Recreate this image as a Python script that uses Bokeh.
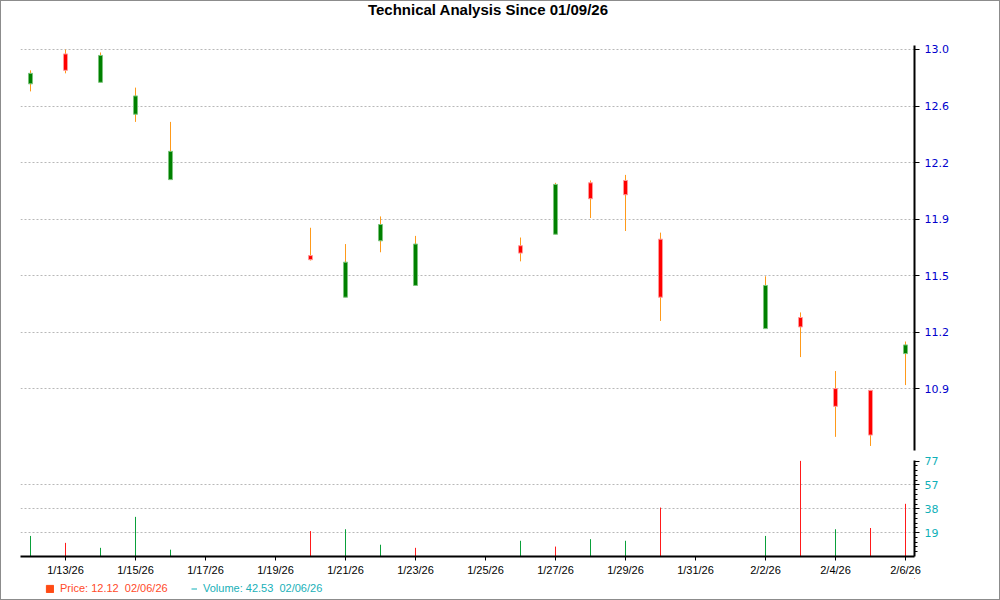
import pandas as pd
from bokeh.plotting import figure
from bokeh.layouts import column
from bokeh.models import (ColumnDataSource, Range1d, FixedTicker, Legend, LegendItem, Div)
from bokeh.embed import file_html
from bokeh.resources import INLINE

# ---------------- data ----------------
dates = ["2026-01-12", "2026-01-13", "2026-01-14", "2026-01-15", "2026-01-16",
         "2026-01-20", "2026-01-21", "2026-01-22", "2026-01-23", "2026-01-26",
         "2026-01-27", "2026-01-28", "2026-01-29", "2026-01-30", "2026-02-02",
         "2026-02-03", "2026-02-04", "2026-02-05", "2026-02-06"]
open_ = [12.77, 12.97, 12.78, 12.57, 12.15, 11.68, 11.43, 11.77, 11.50, 11.74,
         11.81, 12.13, 12.145, 11.78, 11.245, 11.31, 10.90, 10.89, 11.10]
high = [12.86, 13.00, 12.98, 12.745, 12.52, 11.85, 11.75, 11.92, 11.80, 11.79,
        12.13, 12.145, 12.18, 11.82, 11.555, 11.34, 11.00, 10.89, 11.17]
low = [12.72, 12.84, 12.78, 12.52, 12.15, 11.65, 11.43, 11.70, 11.50, 11.645,
       11.81, 11.91, 11.83, 11.29, 11.245, 11.08, 10.63, 10.58, 10.92]
close = [12.84, 12.86, 12.96, 12.69, 12.33, 11.655, 11.64, 11.87, 11.75, 11.695,
         12.12, 12.03, 12.055, 11.43, 11.50, 11.255, 10.80, 10.64, 11.15]
volume = [16.6, 11.0, 7.0, 32.0, 5.5, 20.5, 22.0, 9.5, 7.0, 12.7,
          8.0, 14.0, 12.7, 39.5, 16.6, 77.3, 22.0, 23.0, 42.53]
volume_dir = ["up", "down", "up", "up", "up", "down", "up", "up", "down", "up",
              "down", "up", "up", "down", "up", "down", "up", "down", "down"]

x_tick_dates = ["2026-01-13", "2026-01-15", "2026-01-17", "2026-01-19", "2026-01-21",
                "2026-01-23", "2026-01-25", "2026-01-27", "2026-01-29", "2026-01-31",
                "2026-02-02", "2026-02-04", "2026-02-06"]
x_tick_labels = ["1/13/26", "1/15/26", "1/17/26", "1/19/26", "1/21/26", "1/23/26",
                 "1/25/26", "1/27/26", "1/29/26", "1/31/26", "2/2/26", "2/4/26", "2/6/26"]
price_tick_values = [10.9, 11.225, 11.559, 11.903, 12.258, 12.623, 13.0]
price_tick_labels = ["10.9", "11.2", "11.5", "11.9", "12.2", "12.6", "13.0"]
vol_tick_values = [19.25, 38.5, 57.75, 77.0]
vol_tick_labels = ["19", "38", "57", "77"]

title_text = "Technical Analysis Since 01/09/26"
price_legend = "Price: 12.12  02/06/26"
volume_legend = "Volume: 42.53  02/06/26"

# ---------------- derived ----------------
base = pd.Timestamp(dates[0])
xs = [(pd.Timestamp(d) - base).days for d in dates]
xticks = [(pd.Timestamp(d) - base).days for d in x_tick_dates]

GREEN, GREEN_EDGE = "#008000", "#7cc47c"
RED, RED_EDGE = "#ff0000", "#ff9a9a"
WICK = "#ff9a1a"
VOL_UP, VOL_DOWN = "#0aa03a", "#ff1a1a"
PRICE_LEG, VOL_LEG = "#ff4a14", "#10b0b8"

up = [c >= o for o, c in zip(open_, close)]
src = ColumnDataSource(dict(
    x=xs, open=open_, high=high, low=low, close=close,
    top=[max(o, c) for o, c in zip(open_, close)],
    bottom=[min(o, c) for o, c in zip(open_, close)],
    fill=[GREEN if u else RED for u in up],
    edge=[GREEN_EDGE if u else RED_EDGE for u in up],
    vol=volume, zero=[0] * len(xs),
    vcol=[VOL_UP if d == "up" else VOL_DOWN for d in volume_dir],
))

x_range = Range1d(-0.286, 25.257)
W = 998
LEFT, RIGHT = 19, 85

grid_style = dict(grid_line_color="#b8b8b8", grid_line_dash="2 2", grid_line_width=1)

# ---------------- title ----------------
title = Div(text=title_text, width=W, height=36, margin=0,
            styles={"font-family": "Liberation Sans", "font-weight": "bold",
                    "font-size": "15px", "line-height": "18px", "color": "#000000",
                    "text-align": "center", "padding-right": "24px",
                    "box-sizing": "border-box"})

# ---------------- price panel ----------------
p1 = figure(width=W, height=415, x_range=x_range, y_range=Range1d(10.555, 13.027),
            y_axis_type="log", y_axis_location="right", x_axis_location=None,
            output_backend="svg", toolbar_location=None,
            min_border_left=LEFT, min_border_right=RIGHT, min_border_top=8,
            min_border_bottom=2)
p1.outline_line_color = None
p1.xgrid.visible = False
ya = p1.yaxis[0]
ya.ticker = FixedTicker(ticks=price_tick_values, minor_ticks=[])
ya.major_label_overrides = {v: l for v, l in zip(price_tick_values, price_tick_labels)}
ya.axis_line_width = 2
ya.axis_line_color = "#000000"
ya.major_tick_out = 5
ya.major_tick_in = 0
ya.major_tick_line_color = "#000000"
ya.minor_tick_line_color = None
ya.major_label_standoff = 5
ya.major_label_text_color = "#0000cc"
ya.major_label_text_font = "DejaVu Sans"
ya.major_label_text_font_size = "11px"
p1.ygrid.ticker = FixedTicker(ticks=price_tick_values)
for k, v in grid_style.items():
    setattr(p1.ygrid, k, v)

p1.segment(x0="x", y0="low", x1="x", y1="high", source=src, line_color=WICK, line_width=1)
p1.vbar(x="x", width=0.115, top="top", bottom="bottom", source=src,
        fill_color="fill", line_color="edge", line_width=1)

# ---------------- volume panel ----------------
p2 = figure(width=W, height=126, x_range=x_range, y_range=Range1d(0, 77.5),
            y_axis_location="right", output_backend="svg", toolbar_location=None,
            min_border_left=LEFT, min_border_right=RIGHT, min_border_top=8,
            min_border_bottom=20)
p2.outline_line_color = None
p2.xgrid.visible = False
va = p2.yaxis[0]
minor = [i * 19.25 / 5 for i in range(1, 21)]
va.ticker = FixedTicker(ticks=vol_tick_values, minor_ticks=minor)
va.major_label_overrides = {v: l for v, l in zip(vol_tick_values, vol_tick_labels)}
va.axis_line_width = 2
va.axis_line_color = "#000000"
va.major_tick_out = 5
va.major_tick_in = 0
va.minor_tick_out = 3
va.minor_tick_in = 0
va.minor_tick_line_color = "#000000"
va.major_label_standoff = 5
va.major_label_text_color = "#10b0b8"
va.major_label_text_font = "DejaVu Sans"
va.major_label_text_font_size = "11px"
p2.ygrid.ticker = FixedTicker(ticks=vol_tick_values[:-1])
for k, v in grid_style.items():
    setattr(p2.ygrid, k, v)

xa = p2.xaxis[0]
xa.ticker = FixedTicker(ticks=xticks, minor_ticks=[])
xa.major_label_overrides = {v: l for v, l in zip(xticks, x_tick_labels)}
xa.axis_line_width = 2
xa.axis_line_color = "#000000"
xa.major_tick_out = 4
xa.major_tick_in = 0
xa.minor_tick_line_color = None
xa.major_label_standoff = 3
xa.major_label_text_font = "Liberation Sans"
xa.major_label_text_font_size = "11px"
xa.major_label_text_color = "#000000"

p2.segment(x0="x", y0="zero", x1="x", y1="vol", source=src, line_color="vcol", line_width=1)

# ---------------- legend strip ----------------
# the strip's ranges are fixed; the two legend proxies sit outside them (never visible)
p3 = figure(width=W, height=21, x_axis_location=None, y_axis_location=None,
            x_range=Range1d(0, 1), y_range=Range1d(0, 1),
            output_backend="svg", toolbar_location=None,
            min_border_left=0, min_border_right=0, min_border_top=0, min_border_bottom=0)
p3.outline_line_color = None
p3.grid.visible = False
proxy = ColumnDataSource(dict(x=[5, 6], y=[5, 5], top=[6, 6], bottom=[5, 5]))
r_price = p3.vbar(x="x", top="top", bottom="bottom", width=0.5, source=proxy,
                  fill_color=PRICE_LEG, line_color=PRICE_LEG)
r_vol = p3.line(x="x", y="y", source=proxy, line_color=VOL_LEG, line_width=1)

common = dict(padding=0, margin=0, border_line_alpha=0, background_fill_alpha=0,
              label_text_font="Liberation Sans", label_text_font_size="11px",
              label_height=12, orientation="horizontal", spacing=0)
lg1 = Legend(items=[LegendItem(label=price_legend, renderers=[r_price])],
             location=(25, 5), glyph_width=9, glyph_height=9, label_standoff=6,
             label_text_color="#ff4a2a", **common)
lg2 = Legend(items=[LegendItem(label=volume_legend, renderers=[r_vol])],
             location=(171, 5), glyph_width=6, glyph_height=9, label_standoff=6,
             label_text_color="#18b0b8", **common)
p3.add_layout(lg1)
p3.add_layout(lg2)

layout = column(title, p1, p2, p3, spacing=0,
                styles={"outline": "1px solid #8c8c8c", "margin": "1px"})

open("out.html", "w").write(file_html(layout, INLINE))
